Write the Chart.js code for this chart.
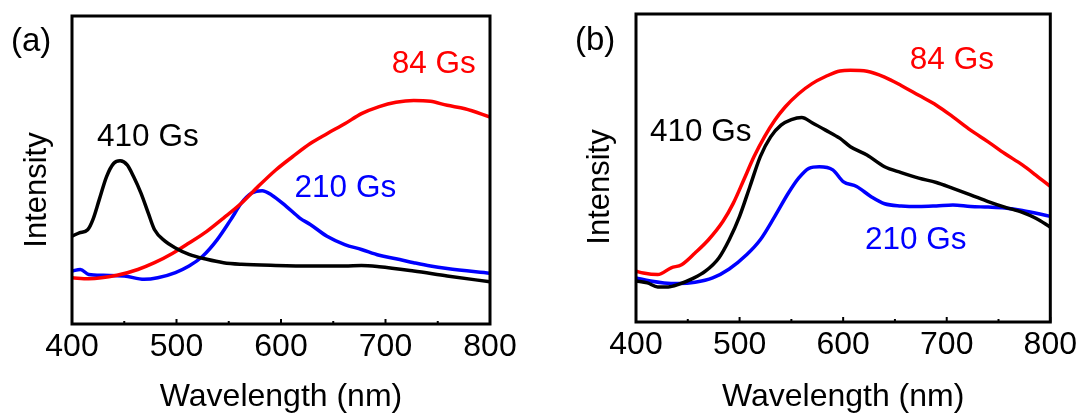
<!DOCTYPE html>
<html><head><meta charset="utf-8">
<script src="https://cdn.jsdelivr.net/npm/chart.js@4.4.1/dist/chart.umd.min.js"></script>
<style>
html,body{margin:0;padding:0;background:#fff;width:1081px;height:416px;overflow:hidden}
canvas{position:absolute;top:0}
#ca{left:0}
#cb{left:540px}
</style></head>
<body>
<canvas id="ca" width="540" height="416"></canvas>
<canvas id="cb" width="541" height="416"></canvas>
<script>
// ---- tick labels ----
const xMajorTicks = [400, 500, 600, 700, 800];
const xMinorTicks = [450, 550, 650, 750];

// ---- panel (a) ----
const aWl410 = [400,407,415,420,426,433,440,446,453,459,466,473,479,489,499,512,529,545,562,595,628,661,677,694,727,759,800];
const aInt410 = [28.5,29.6,30.6,33.9,40.3,47.8,52.2,53,51.6,47.8,42.5,36,30.6,26.9,24.7,22.6,21,19.9,19.4,19,18.8,18.8,19,18.6,17.2,15.6,13.7];
const aWl84 = [400,416,443,463,479,496,512,529,545,562,578,595,611,628,644,661,677,694,710,727,743,759,776,800];
const aInt84 = [15,14.7,15.8,17.7,19.9,22.9,26.3,30.1,34.4,39.2,44.6,50,54.3,58.6,61.8,65,68.3,70.6,72,72.6,72.3,71,69.9,67.2];
const aWl210 = [400,408,416,430,450,469,482,499,512,525,539,552,562,572,582,591,605,618,628,644,661,677,694,710,727,743,759,800];
const aInt210 = [17.2,17.7,16.1,15.8,15.6,14.5,15,16.7,18.8,22,27.4,33.9,39.2,42.5,43.3,41.9,38.2,34.4,32.3,28.5,25.8,24.2,22.3,21.2,19.9,18.8,18,16.5];

// ---- panel (b) ----
const bWl84 = [400,407,421,434,444,457,470,484,494,504,514,524,534,544,557,570,583,597,607,623,640,656,673,690,706,723,740,756,773,786,800];
const bInt84 = [16.5,15.9,15.4,17.6,18.6,22.4,26.7,32.7,38.6,46.1,53.7,60.1,65.5,69.8,74.1,77.4,79.7,81.5,81.7,81.4,79.5,76.8,73.6,70.4,66.6,62.3,58.5,54.7,51,47.7,44];
const bWl410 = [400,411,421,431,441,454,467,480,490,500,510,520,530,540,550,560,570,583,597,607,623,640,656,673,690,706,723,740,756,773,786,800];
const bInt410 = [13.3,12.7,11.4,11.4,12.2,14,16.5,20.8,26.7,34.3,44,53.7,60.1,63.9,65.7,66.4,64.7,62.3,59.6,56.9,54.2,50.4,48.5,46.7,45.3,43.4,41.3,39.1,37.3,35.6,33.7,30.8];
const bWl210 = [400,414,427,441,457,474,490,507,520,534,547,557,567,577,590,600,613,627,640,656,673,690,706,723,740,756,773,800];
const bInt210 = [14.3,13.3,12.7,12.5,12.9,14.3,17.2,21.9,26.7,34.3,41.8,46.7,49.9,50.4,49.4,45.6,44,40.7,38.4,37.7,37.5,37.7,38,37.5,37.3,37,36.2,34.3];

const seriesNames = ['84 Gs', '210 Gs', '410 Gs'];
const seriesColors = ['#ff0000', '#0000ff', '#000000'];

const FONT = "'Liberation Sans', Arial, sans-serif";

function pts(wl, it) { return wl.map((w, i) => ({x: w, y: it[i]})); }

const decor = {
  id: 'decor',
  afterDatasetsDraw(chart, args, o) {
    const {ctx, chartArea: a, scales: {x, y}} = chart;
    ctx.save();
    // frame
    ctx.strokeStyle = '#000';
    ctx.lineWidth = 3;
    ctx.strokeRect(a.left, a.top, a.right - a.left, a.bottom - a.top);
    // inward ticks
    ctx.lineWidth = 2;
    xMajorTicks.forEach(v => {
      const p = x.getPixelForValue(v);
      ctx.beginPath(); ctx.moveTo(p, a.bottom); ctx.lineTo(p, a.bottom - 5); ctx.stroke();
    });
    xMinorTicks.forEach(v => {
      const p = x.getPixelForValue(v);
      ctx.beginPath(); ctx.moveTo(p, a.bottom); ctx.lineTo(p, a.bottom - 3); ctx.stroke();
    });
    // y title
    ctx.fillStyle = '#000';
    ctx.font = '31px ' + FONT;
    ctx.textAlign = 'center';
    ctx.textBaseline = 'middle';
    ctx.translate(a.left - o.yTitleDx, (a.top + a.bottom) / 2 + o.yTitleDy);
    ctx.rotate(-Math.PI / 2);
    ctx.fillText('Intensity', 0, 0);
    ctx.restore();
    ctx.save();
    // panel label
    ctx.fillStyle = '#000';
    ctx.font = '33px ' + FONT;
    ctx.textAlign = 'left';
    ctx.textBaseline = 'middle';
    ctx.fillText(o.panel, o.panelX, o.panelY);
    // series labels
    ctx.font = '31.5px ' + FONT;
    o.notes.forEach(n => {
      ctx.fillStyle = seriesColors[n.s];
      ctx.fillText(seriesNames[n.s], x.getPixelForValue(n.x), y.getPixelForValue(n.y));
    });
    ctx.restore();
  }
};

function makeChart(id, ds, yWidth, padTop, padRight, xHeight, decorOpts) {
  return new Chart(document.getElementById(id), {
    type: 'line',
    data: {
      datasets: ds.map(d => ({
        label: seriesNames[d.s],
        data: pts(d.wl, d.it),
        borderColor: seriesColors[d.s],
        borderWidth: 3.5,
        pointRadius: 0,
        fill: false,
        cubicInterpolationMode: 'monotone'
      }))
    },
    options: {
      responsive: false,
      animation: false,
      devicePixelRatio: 1,
      layout: {padding: {top: padTop, right: padRight, left: 0, bottom: 0}},
      plugins: {legend: {display: false}, tooltip: {enabled: false}, decor: decorOpts},
      scales: {
        x: {
          type: 'linear', min: 400, max: 800,
          afterBuildTicks: s => { s.ticks = xMajorTicks.map(v => ({value: v})); },
          ticks: {font: {family: FONT, size: 32}, color: '#000', padding: 4, maxRotation: 0, autoSkip: false},
          grid: {display: false, drawTicks: false},
          border: {display: false},
          title: {display: true, text: 'Wavelength (nm)', color: '#000', font: {family: FONT, size: 32}, padding: {top: 0, bottom: 0}},
          afterFit: s => { s.height = xHeight; }
        },
        y: {
          min: 0, max: 100,
          ticks: {display: false},
          grid: {display: false, drawTicks: false},
          border: {display: false},
          afterFit: s => { s.width = yWidth; }
        }
      }
    },
    plugins: [decor]
  });
}

makeChart('ca', [
  {s: 2, wl: aWl410, it: aInt410},
  {s: 0, wl: aWl84, it: aInt84},
  {s: 1, wl: aWl210, it: aInt210}
], 72, 16, 50, 92, {
  panel: '(a)', panelX: 11, panelY: 42, yTitleDx: 35, yTitleDy: 20,
  notes: [{s: 0, x: 706, y: 84.4}, {s: 2, x: 424, y: 60.7}, {s: 1, x: 613, y: 44.2}]
});

makeChart('cb', [
  {s: 0, wl: bWl84, it: bInt84},
  {s: 2, wl: bWl410, it: bInt410},
  {s: 1, wl: bWl210, it: bInt210}
], 96, 14, 29, 94, {
  panel: '(b)', panelX: 35, panelY: 41, yTitleDx: 36, yTitleDy: 19,
  notes: [{s: 0, x: 664.4, y: 85.1}, {s: 2, x: 413.5, y: 61.7}, {s: 1, x: 621, y: 26.6}]
});
</script>
</body></html>
